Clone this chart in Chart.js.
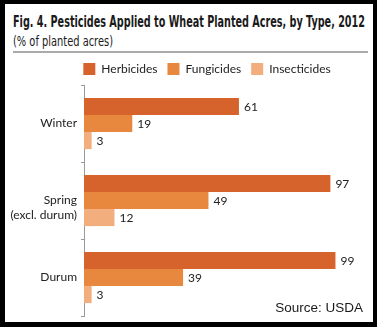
<!DOCTYPE html>
<html>
<head>
<meta charset="utf-8">
<script src="https://cdn.jsdelivr.net/npm/chart.js@4/dist/chart.umd.min.js"></script>
<style>
  html, body { margin: 0; padding: 0; background: #000; }
  #frame { position: absolute; left: 0; top: 0; width: 377px; height: 327px; background: #000; }
  #inner { position: absolute; left: 5px; top: 4px; width: 368px; height: 318px; background: #fff; overflow: hidden; }
  .fit { position: absolute; white-space: nowrap; transform-origin: 0 0; color: #1a1a1a; }
  #title { left: 8px; top: 8px; font: bold 16px "Liberation Sans Narrow", "DejaVu Sans Condensed", sans-serif; line-height: 20px; }
  #subtitle { left: 8px; top: 28px; font: 14px "Liberation Sans Narrow", "DejaVu Sans Condensed", sans-serif; line-height: 18px; }
  #rule { position: absolute; left: 8px; top: 47px; width: 355px; height: 2px; background: #aaa; }
  #source { position: absolute; right: 10px; top: 296px; font: 13.5px "Liberation Sans", Arial, sans-serif; color: #1a1a1a; line-height: 16px; }
  #wrap { position: absolute; left: 0; top: 49px; width: 368px; height: 269px; }
  #cv { display: block; }
</style>
</head>
<body>
<div id="frame">
  <div id="inner">
    <div id="title" class="fit">Fig. 4. Pesticides Applied to Wheat Planted Acres, by Type, 2012</div>
    <div id="subtitle" class="fit">(% of planted acres)</div>
    <div id="rule"></div>
    <div id="wrap"><canvas id="cv" width="368" height="269"></canvas></div>
    <div id="source">Source: USDA</div>
  </div>
</div>
<script>
// ---- data ----
const categories = [["Winter", ""], ["Spring", "(excl. durum)"], ["Durum", ""]];
const seriesNames = ["Herbicides", "Fungicides", "Insecticides"];
const herbicides = [61, 97, 99];
const fungicides = [19, 49, 39];
const insecticides = [3, 12, 3];
const seriesColors = ["#d5632b", "#e8873e", "#f3ae7e"];

// fit title text widths
function fitWidth(id, w) {
  const el = document.getElementById(id);
  const cur = el.getBoundingClientRect().width;
  el.style.transform = "scaleX(" + (w / cur) + ")";
}
fitWidth("title", 352);
fitWidth("subtitle", 100);

const valueLabels = {
  id: "valueLabels",
  afterDatasetsDraw(chart) {
    const ctx = chart.ctx;
    ctx.save();
    ctx.font = "12px Lato, 'Open Sans', sans-serif";
    ctx.fillStyle = "#222";
    ctx.textBaseline = "middle";
    ctx.textAlign = "left";
    chart.data.datasets.forEach((ds, i) => {
      const meta = chart.getDatasetMeta(i);
      meta.data.forEach((bar, j) => {
        ctx.fillText(String(ds.data[j]), bar.x + 5, bar.y + 1);
      });
    });
    ctx.restore();
  }
};

// centre the legend over the plot region rather than the whole canvas
const legendShift = {
  id: "legendShift",
  afterLayout(chart) {
    const lg = chart.legend;
    if (!lg) return;
    const target = (chart.chartArea.left + chart.chartArea.right) / 2 - 4;
    const cur = (lg.left + lg.right) / 2;
    const dx = target - cur;
    lg.left += dx; lg.right += dx;
  }
};

Chart.defaults.font.family = "Lato, 'Open Sans', sans-serif";
Chart.defaults.color = "#222";

new Chart(document.getElementById("cv"), {
  type: "bar",
  data: {
    labels: categories,
    datasets: [
      { label: seriesNames[0], data: herbicides, backgroundColor: seriesColors[0] },
      { label: seriesNames[1], data: fungicides, backgroundColor: seriesColors[1] },
      { label: seriesNames[2], data: insecticides, backgroundColor: seriesColors[2] }
    ]
  },
  options: {
    indexAxis: "y",
    responsive: false,
    animation: false,
    datasets: { bar: { categoryPercentage: 0.665, barPercentage: 1.0 } },
    layout: { padding: { left: 0, right: 35, top: 0, bottom: 6 } },
    plugins: {
      legend: {
        position: "top",
        labels: { boxWidth: 12, boxHeight: 12, padding: 10, font: { size: 12 }, color: "#222" }
      },
      tooltip: { enabled: false }
    },
    scales: {
      x: { display: false, min: 0, max: 100 },
      y: {
        afterFit(s) { s.width = 79; s.paddingTop = 0; s.paddingBottom = 0; },
        grid: { offset: true, drawOnChartArea: false, tickLength: 3, color: "#999" },
        border: { color: "#999" },
        ticks: { padding: 4, labelOffset: 7, font: { size: 12 }, color: "#222" }
      }
    }
  },
  plugins: [valueLabels, legendShift]
});
</script>
</body>
</html>
